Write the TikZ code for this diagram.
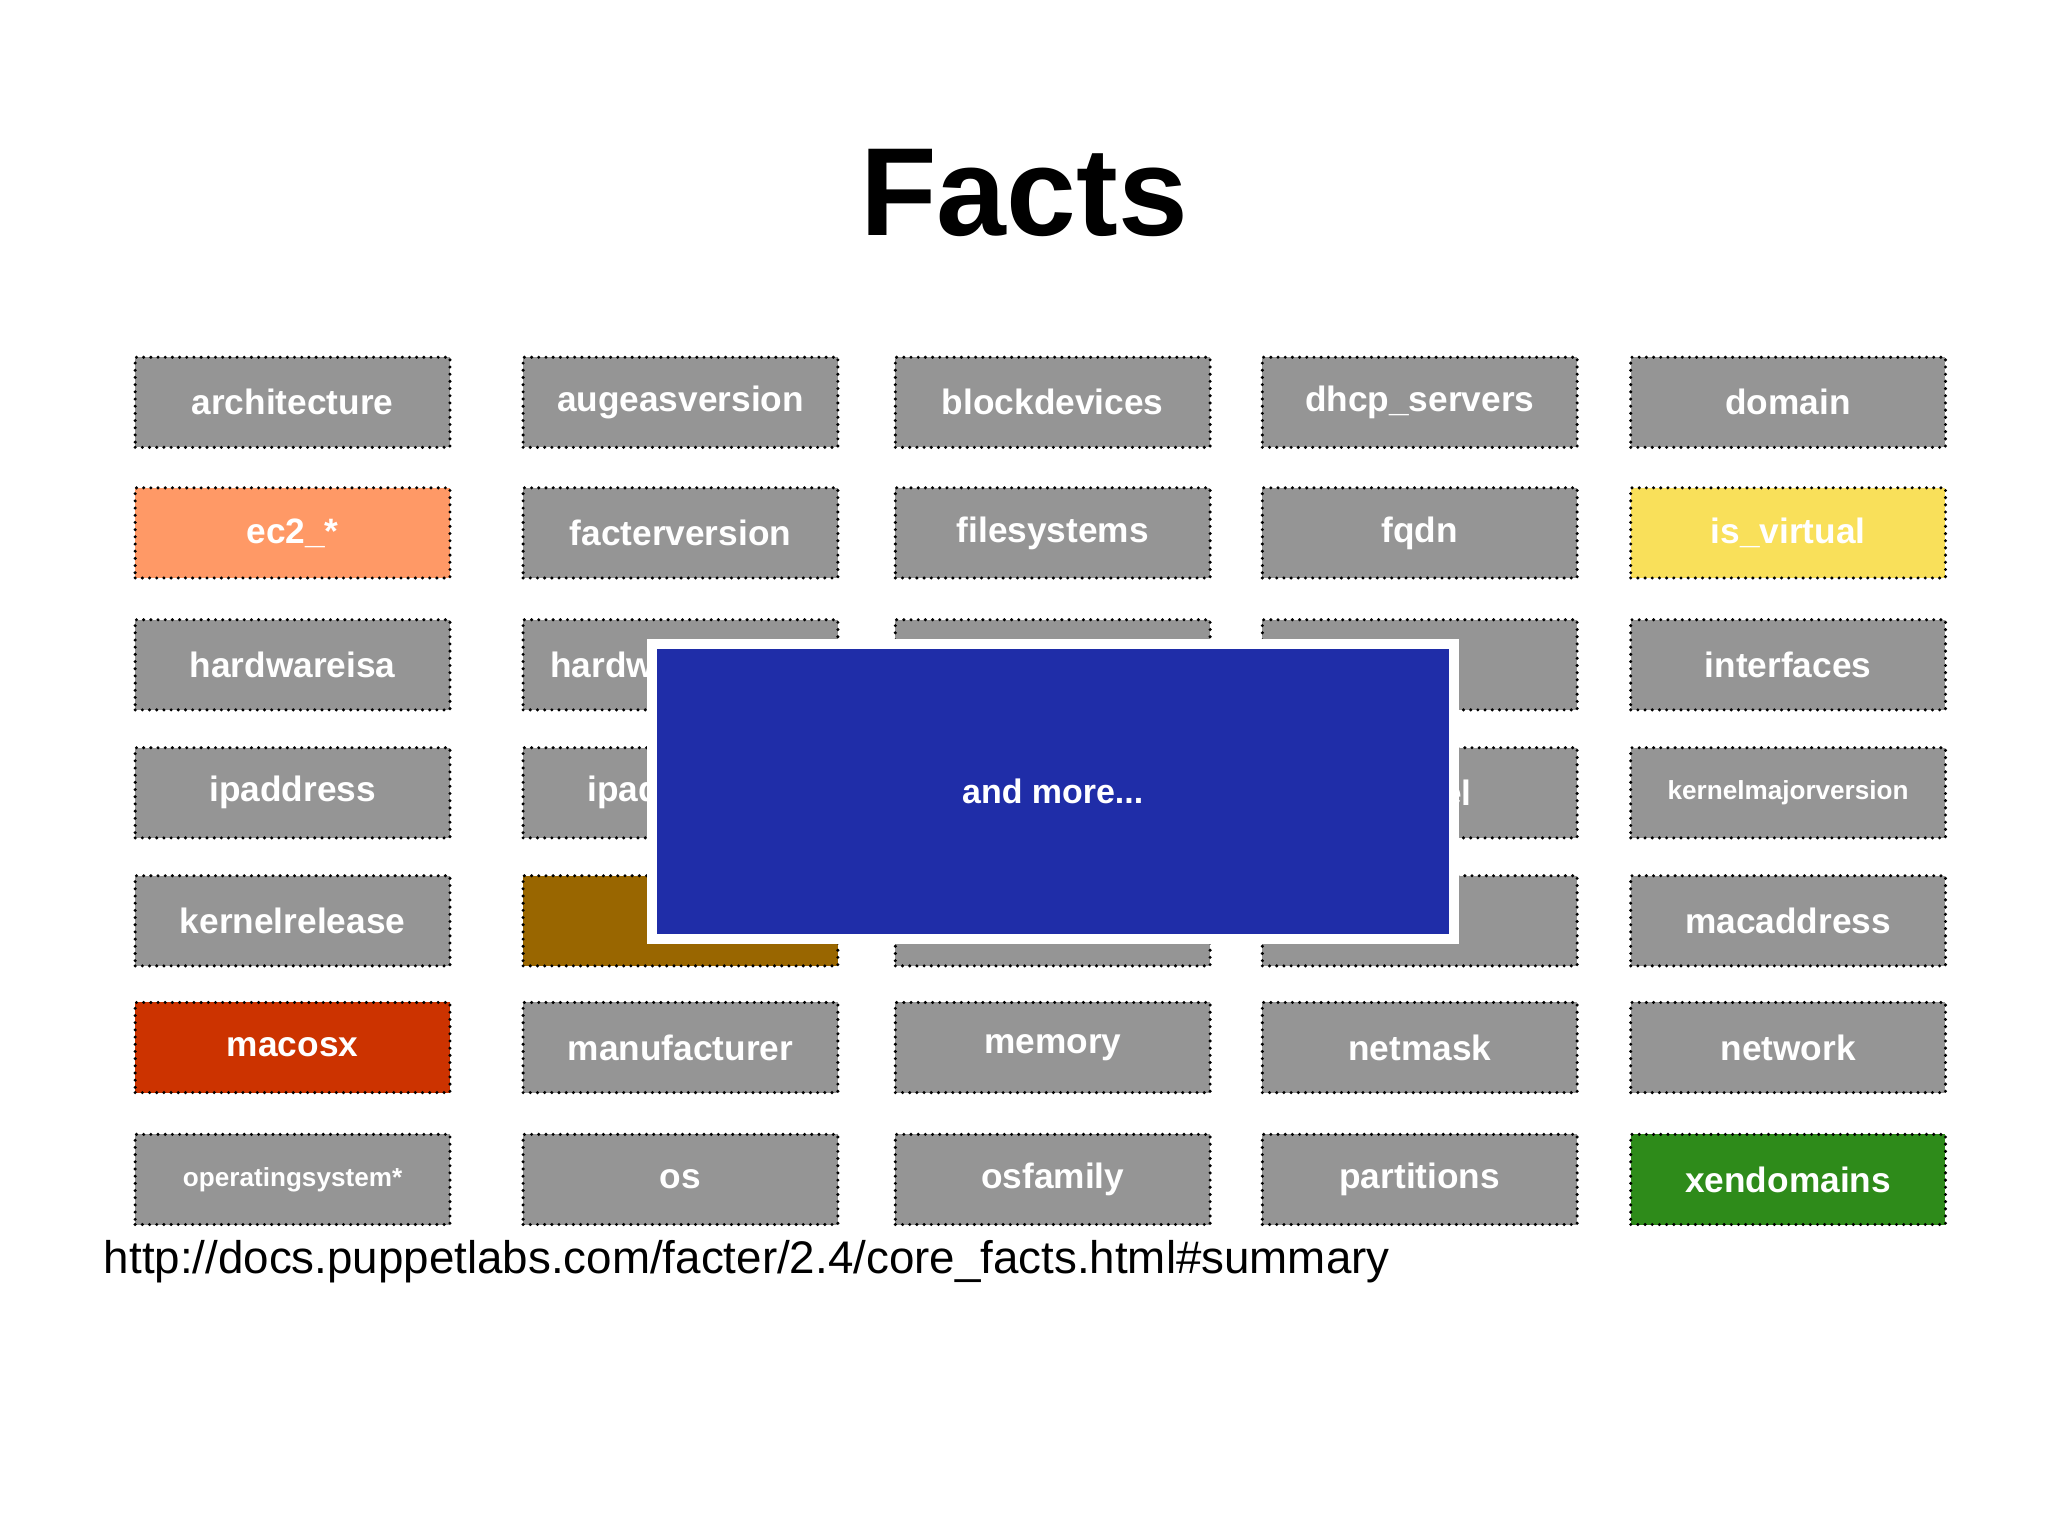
\documentclass[tikz,border=0pt]{standalone}
\usepackage{fontspec}
\setmainfont{Liberation Sans}
\definecolor{fgray}{HTML}{959595}
\definecolor{forange}{HTML}{FF9966}
\definecolor{fyellow}{HTML}{F9E05A}
\definecolor{fred}{HTML}{CC3300}
\definecolor{fgreen}{HTML}{2E8B1A}
\definecolor{fbrown}{HTML}{996600}
\definecolor{fblue}{HTML}{1F2DA8}
\tikzset{
 fact/.style={fill=fgray, draw=black, line width=2.6pt, dash pattern=on 0pt off 5.5pt, line cap=round,
   minimum width=241pt, minimum height=69pt, inner sep=0pt, text=white,
   font=\fontsize{27}{30}\selectfont\bfseries},
 small/.style={font=\fontsize{20}{24}\selectfont\bfseries}
}
\begin{document}
\begin{tikzpicture}[x=1pt,y=-1pt]
\useasboundingbox[fill=white] (0,0) rectangle (1568,1176);
\node[font=\fontsize{96}{100}\selectfont\bfseries] (title) at (784,148) {Facts};
% row 1
\node[fact] (a1) at (224,308) {architecture};
\node[fact] (a2) at (521,308) {augeasversion};
\node[fact] (a3) at (806,308) {blockdevices};
\node[fact] (a4) at (1087,308) {dhcp\_servers};
\node[fact] (a5) at (1369,308) {domain};
% row 2
\node[fact,fill=forange] (b1) at (224,408) {ec2\_*};
\node[fact] (b2) at (521,408) {facterversion};
\node[fact] (b3) at (806,408) {filesystems};
\node[fact] (b4) at (1087,408) {fqdn};
\node[fact,fill=fyellow] (b5) at (1369,408) {is\_virtual};
% row 3
\node[fact] (c1) at (224,509) {hardwareisa};
\node[fact] (c2) at (521,509) {hardwaremodel};
\node[fact] (c3) at (806,509) {};
\node[fact] (c4) at (1087,509) {};
\node[fact] (c5) at (1369,509) {interfaces};
% row 4
\node[fact] (d1) at (224,607) {ipaddress};
\node[fact] (d2) at (521,607) {ipaddress6};
\node[fact] (d3) at (806,607) {};
\node[fact] (d4) at (1087,607) {kernel};
\node[fact,small] (d5) at (1369,607) {kernelmajorversion};
% row 5
\node[fact] (e1) at (224,705) {kernelrelease};
\node[fact,fill=fbrown] (e2) at (521,705) {lsb*};
\node[fact] (e3) at (806,705) {};
\node[fact] (e4) at (1087,705) {};
\node[fact] (e5) at (1369,705) {macaddress};
% row 6
\node[fact,fill=fred] (f1) at (224,802) {macosx};
\node[fact] (f2) at (521,802) {manufacturer};
\node[fact] (f3) at (806,802) {memory};
\node[fact] (f4) at (1087,802) {netmask};
\node[fact] (f5) at (1369,802) {network};
% row 7
\node[fact,small] (g1) at (224,903) {operatingsystem*};
\node[fact] (g2) at (521,903) {os};
\node[fact] (g3) at (806,903) {osfamily};
\node[fact] (g4) at (1087,903) {partitions};
\node[fact,fill=fgreen] (g5) at (1369,903) {xendomains};
% overlay
\node[fill=fblue, draw=white, line width=8pt, minimum width=614pt, minimum height=226pt, inner sep=0pt,
  text=white, font=\fontsize{26}{30}\selectfont\bfseries] (more) at (806,606) {and more...};
\node[anchor=west, font=\fontsize{35}{40}\selectfont] (url) at (76,966) {http://docs.puppetlabs.com/facter/2.4/core\_facts.html\#summary};
\end{tikzpicture}
\end{document}
